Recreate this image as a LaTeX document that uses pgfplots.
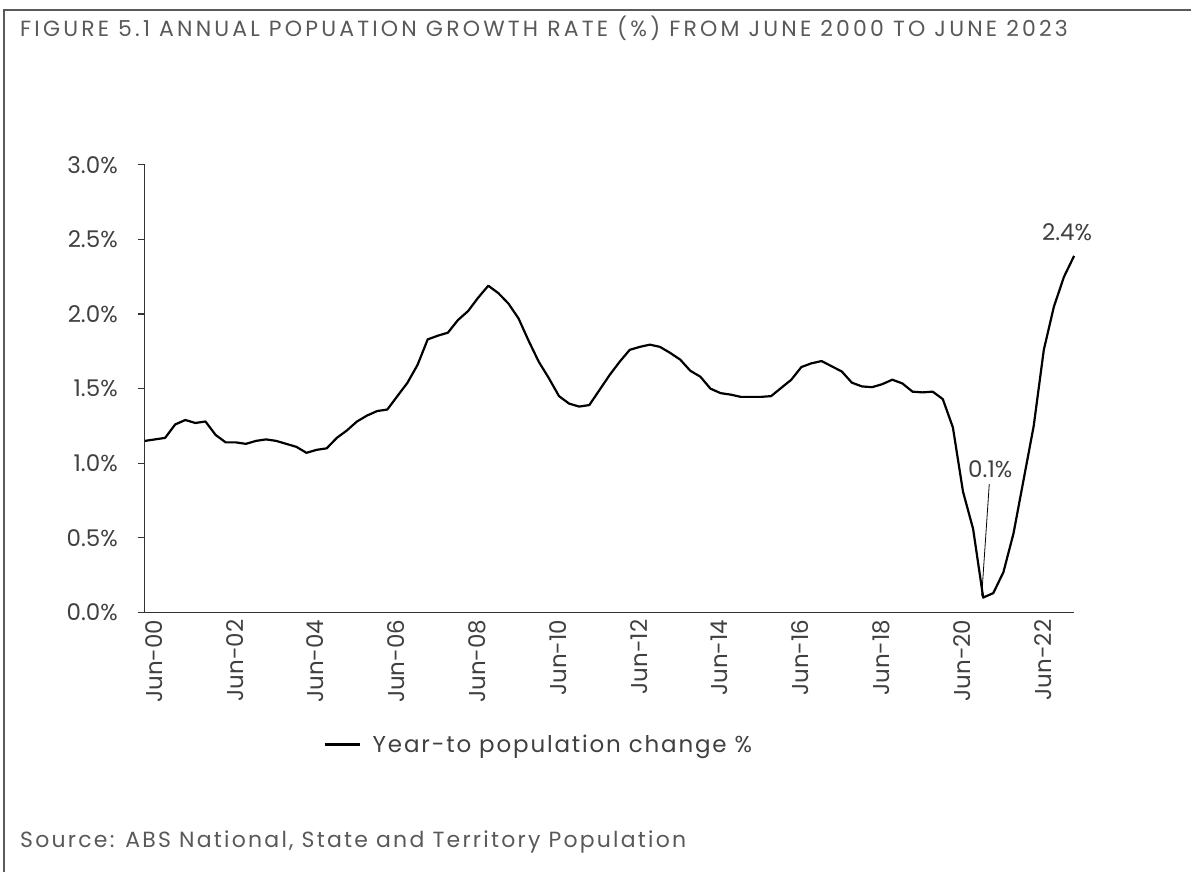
\documentclass[border=0pt]{standalone}
\usepackage{fontspec}
\setmainfont{Poppins}
\usepackage{pgfplots}
\pgfplotsset{compat=1.18}
\definecolor{txtgray}{HTML}{404040}
\definecolor{ttlgray}{HTML}{595959}
\definecolor{framegray}{HTML}{5A5A5A}

% quarterly growth, year to Jun-00 ... year to Jun-23 (index 0..92)
\pgfplotstableread{
q  g
0  1.15
1  1.16
2  1.17
3  1.26
4  1.29
5  1.27
6  1.28
7  1.19
8  1.14
9  1.14
10 1.13
11 1.15
12 1.16
13 1.15
14 1.13
15 1.11
16 1.07
17 1.09
18 1.10
19 1.17
20 1.22
21 1.28
22 1.32
23 1.35
24 1.36
25 1.45
26 1.54
27 1.66
28 1.83
29 1.855
30 1.875
31 1.96
32 2.02
33 2.11
34 2.19
35 2.14
36 2.07
37 1.97
38 1.82
39 1.68
40 1.57
41 1.45
42 1.40
43 1.38
44 1.39
45 1.49
46 1.59
47 1.68
48 1.76
49 1.78
50 1.795
51 1.78
52 1.74
53 1.695
54 1.62
55 1.58
56 1.50
57 1.47
58 1.46
59 1.445
60 1.445
61 1.445
62 1.45
63 1.505
64 1.56
65 1.645
66 1.67
67 1.685
68 1.65
69 1.615
70 1.54
71 1.515
72 1.51
73 1.53
74 1.56
75 1.535
76 1.48
77 1.475
78 1.48
79 1.43
80 1.24
81 0.81
82 0.56
83 0.10
84 0.13
85 0.27
86 0.53
87 0.89
88 1.25
89 1.76
90 2.05
91 2.25
92 2.39
}\growth

\begin{document}
\begin{tikzpicture}[x=1pt,y=1pt]
\path (0,0) rectangle (1192,873);
\draw[framegray, line width=2pt] (4,0) -- (4,863) -- (1192,863);
\node[anchor=west, text=ttlgray, inner sep=0pt,
  font=\fontsize{22}{26}\selectfont\addfontfeatures{LetterSpace=14.5}]
  at (20,845) {FIGURE 5.1 ANNUAL POPUATION GROWTH RATE (\%) FROM JUNE 2000 TO JUNE 2023};
\node[anchor=west, text=ttlgray, inner sep=0pt,
  font=\fontsize{22}{26}\selectfont\addfontfeatures{LetterSpace=10.2}]
  at (20,30) {Source: ABS National, State and Territory Population};
\begin{axis}[
    at={(145pt,260pt)}, anchor=south west,
    scale only axis,
    width=930pt, height=448pt,
    xmin=0, xmax=92,
    ymin=0, ymax=3,
    axis x line*=bottom,
    axis y line*=left,
    axis line style={black!80, line width=1.2pt},
    xtick={0,8,...,88},
    xticklabels={Jun-00,Jun-02,Jun-04,Jun-06,Jun-08,Jun-10,Jun-12,Jun-14,Jun-16,Jun-18,Jun-20,Jun-22},
    ytick={0,0.5,...,3},
    yticklabels={0.0\%,0.5\%,1.0\%,1.5\%,2.0\%,2.5\%,3.0\%},
    xtick style={draw=none},
    ytick style={black!80, line width=1.2pt},
    tick align=outside,
    major tick length=7pt,
    ticklabel style={font=\fontsize{23}{26}\selectfont, text=txtgray},
    xticklabel style={rotate=90, anchor=east, inner sep=0pt, yshift=-9pt},
    yticklabel style={anchor=east, inner sep=0pt, xshift=-20pt},
    clip=false,
    legend style={draw=none, at={(0.424,-0.295)}, anchor=center,
      font=\fontsize{23}{26}\selectfont\addfontfeatures{LetterSpace=8}, text=txtgray},
    legend image code/.code={\draw[black, line width=2.2pt] (0pt,0pt) -- (35pt,0pt);},
]
\addplot[black, line width=2.2pt, line join=round] table[x=q, y=g] {\growth};
\addlegendentry{\hspace{10pt}Year-to population change \%}
\node[font=\fontsize{23}{26}\selectfont, text=txtgray] at (axis cs:91.3,2.55) {2.4\%};
\node[font=\fontsize{23}{26}\selectfont, text=txtgray] at (axis cs:83.7,0.96) {0.1\%};
\draw[black, line width=0.8pt] (axis cs:83.6,0.86) -- (axis cs:82.85,0.11);
\end{axis}
\end{tikzpicture}
\end{document}
